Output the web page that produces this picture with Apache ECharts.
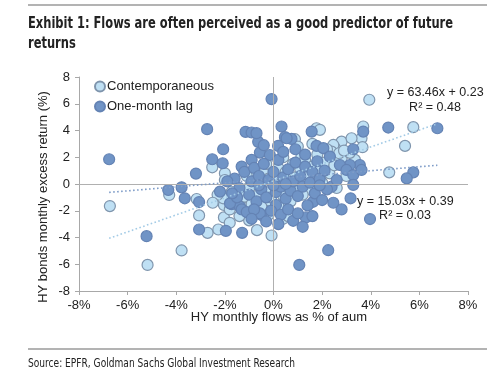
<!DOCTYPE html>
<html><head><meta charset="utf-8">
<script src="https://cdn.jsdelivr.net/npm/echarts@6/dist/echarts.min.js"></script>
<style>html,body{margin:0;padding:0;background:#fff}#c{width:500px;height:374px}</style>
</head><body><div id="c"></div>
<script>
// x: HY monthly flows (% of aum), y: HY bonds monthly excess return (%)
var contemporaneous = [
[-6.73,-1.65],[-5.18,-6.05],[-4.29,-0.82],[-3.78,-4.97],[-3.16,-1.12],[-3.06,-2.35],[-2.71,-3.65],[-2.27,-3.4],
[-2.04,-2.5],[-2.04,-1.57],[-2.52,1.25],[-2.07,-1.07],[-1.72,-0.58],[-1.1,-1.07],[-1.0,-2.72],[-0.68,-3.45],
[-0.08,-3.85],[0.4,-2.6],[-0.15,-1.25],[3.94,6.3],[5.75,4.25],[5.41,2.85],[4.76,0.87],[3.69,4.3],[3.62,3.42],
[1.77,4.17],[1.91,4.05],[2.8,3.17],[3.21,3.42],[2.53,2.68],[3.66,2.75],[2.8,1.92],[3.35,1.8],[0.88,3.35],
[2.46,2.92],[1.15,2.05],[-2.0,0.8],[-1.18,-0.95],[-0.97,-0.15],[-1.66,-1.45],[2.39,2.42],[3.14,2.33],
[-1.8,-1.9],[-1.6,-0.9],[-1.5,-1.5],[-1.3,-0.5],[-1.2,-1.8],[-1.0,-0.3],[-0.9,-1.5],[-0.8,0.5],[-0.7,-0.9],
[-0.6,0.1],[-0.5,-1.7],[-0.4,0.8],[-0.3,-0.6],[-0.2,0.4],[-0.1,-1.0],[0.0,0.6],[0.1,-0.3],[0.2,1.2],[0.3,0.0],
[0.4,-0.9],[0.5,0.9],[0.6,0.3],[0.7,-0.5],[0.8,1.5],[0.9,0.5],[1.0,-0.2],[1.1,1.1],[1.2,0.2],[1.3,1.8],
[1.4,0.7],[1.5,-0.4],[1.6,1.3],[1.7,0.4],[1.8,2.2],[1.9,1.0],[2.0,0.1],[2.1,1.6],[2.2,2.6],[2.3,0.8],
[2.5,1.4],[2.6,-0.3],[2.7,2.3],[-2.3,-0.8],[-2.5,-1.4],[-1.4,-2.4],[-0.6,-2.2],[0.2,-1.6],[0.7,-1.3],
[1.2,-0.8],[-1.1,0.6],[0.4,2.0],[1.0,2.8],[-0.3,1.5],[-2.0,0.3],[3.0,0.6],[2.9,2.5],[1.6,3.0],[0.6,-2.4],
[-0.2,-2.3],[-1.8,-2.9]
];
var oneMonthLag = [
[-6.76,1.85],[-5.22,-3.9],[-4.33,-0.45],[-3.78,-0.25],[-3.65,-1.07],[-3.06,-1.35],[-3.19,0.78],[-3.06,-3.4],
[-2.73,4.1],[-2.52,1.85],[-2.07,2.6],[-2.09,1.55],[-2.2,-0.57],[-1.96,-3.5],[-1.29,-3.65],[-1.72,-1.5],
[-1.38,-1.7],[-1.79,-1.45],[-1.31,-1.9],[-1.15,3.9],[-0.9,3.85],[-0.63,3.15],[-0.7,3.8],[-0.56,2.35],
[-0.15,2.17],[-0.9,1.8],[-1.31,1.3],[-0.08,6.35],[0.33,4.3],[1.57,3.92],[0.47,3.5],[0.74,3.37],[0.54,3.42],
[0.19,2.85],[1.77,2.85],[2.05,2.68],[3.28,2.6],[2.32,2.05],[3.55,1.42],[3.14,1.42],[2.73,1.42],[3.0,1.05],
[3.28,0.67],[3.62,1.05],[3.69,3.92],[4.72,4.22],[6.74,4.17],[5.75,0.87],[5.48,0.42],[3.17,-1.07],[3.97,-2.62],
[2.8,-1.9],[2.46,-1.4],[2.25,-4.95],[1.06,-6.05],[1.33,-2.5],[0.81,-2.75],[-0.49,-2.32],[0.1,-1.57],
[1.63,-1.33],[3.28,-0.07],[2.39,-0.2],[-0.56,-2.2],
[-1.6,0.4],[-1.4,-0.3],[-1.2,0.9],[-1.0,-0.8],[-0.9,0.2],[-0.8,1.2],[-0.7,-1.3],[-0.6,0.6],[-0.5,-0.4],
[-0.4,1.5],[-0.3,-1.0],[-0.2,0.3],[-0.1,-2.0],[0.0,0.9],[0.1,-0.6],[0.2,1.8],[0.3,-0.2],[0.4,0.5],[0.5,-1.1],
[0.6,1.1],[0.7,-0.5],[0.8,0.2],[0.9,1.6],[1.0,-0.9],[1.1,0.6],[1.2,-0.2],[1.3,1.3],[1.4,-1.6],[1.5,0.1],
[1.6,0.9],[1.7,-0.7],[1.8,1.7],[1.9,0.4],[2.0,-1.2],[2.1,1.0],[2.2,-0.4],[-1.5,-1.0],[-1.1,-2.1],[-0.8,-1.9],
[-0.3,-2.8],[0.3,-2.3],[0.6,-1.9],[1.0,-2.2],[1.6,-2.4],[0.4,2.4],[0.9,2.6],[1.3,2.2],[-0.4,2.9],[-1.9,0.2],
[-1.7,-0.7],[0.0,-0.1],[0.5,0.0],[-0.6,-0.1],[1.9,-0.1],[2.6,0.3],[1.2,-3.2],[0.2,-3.0],[-0.9,-2.6]
];
// regression fits as printed on the chart (x as fraction): slope, intercept
var fitContemp = [63.46, 0.23];
var fitLag = [15.03, 0.39];
var xRange = [-6.76, 6.74];
var xTicks = [-8,-6,-4,-2,0,2,4,6,8];
var yTicks = [-8,-6,-4,-2,0,2,4,6,8];
var titleLines = ['Exhibit 1: Flows are often perceived as a good predictor of future', 'returns'];
var sourceText = 'Source: EPFR, Goldman Sachs Global Investment Research';

function fitLine(f){ return xRange.map(function(x){ return [x, f[0]*x/100 + f[1]]; }); }

var narrow = "'Liberation Sans Narrow','DejaVu Sans Condensed',sans-serif";
var arial = "'Liberation Sans',Arial,sans-serif";
var mctx = document.createElement('canvas').getContext('2d');
function fitScale(text, font, target){ mctx.font = font; var w = mctx.measureText(text).width; return w > 0 ? target / w : 1; }
var titleFont = "bold 15px " + narrow;
var titleScale = fitScale(titleLines[0], titleFont, 425);
var srcFont = "13px " + narrow;
var srcScale = fitScale(sourceText, srcFont, 267);

var chart = echarts.init(document.getElementById('c'), null, {renderer:'canvas'});
chart.setOption({
  backgroundColor:'#fff',
  animation:false,
  grid:{left:79, right:32, top:77, bottom:83},
  legend:{
    orient:'vertical', left:89, top:75, itemWidth:10, itemHeight:10, itemGap:7,
    textStyle:{fontFamily:arial, fontSize:13, color:'#222', padding:[0,0,0,-3]},
    data:[{name:'Contemporaneous', icon:'circle'},{name:'One-month lag', icon:'circle'}]
  },
  xAxis:{
    type:'value', min:xTicks[0], max:xTicks[xTicks.length-1], interval:2,
    axisLine:{onZero:false, lineStyle:{color:'#a8a8a8', width:1}},
    axisTick:{show:true, length:4, lineStyle:{color:'#a8a8a8'}},
    splitLine:{show:false},
    axisLabel:{formatter:function(v){return v+'%';}, fontFamily:arial, fontSize:13, color:'#222', margin:8}
  },
  yAxis:{
    type:'value', min:yTicks[0], max:yTicks[yTicks.length-1], interval:2,
    axisLine:{show:true, onZero:false, lineStyle:{color:'#a8a8a8', width:1}},
    axisTick:{show:true, length:4, lineStyle:{color:'#a8a8a8'}},
    splitLine:{show:false},
    axisLabel:{fontFamily:arial, fontSize:13, color:'#222', margin:9}
  },
  series:[
    {type:'line', data:[], z:1, silent:true,
     markLine:{silent:true, symbol:'none', label:{show:false},
       lineStyle:{color:'#b0b0b0', width:1, type:'solid'},
       data:[{xAxis:0},{yAxis:0}]}},
    {name:'Contemporaneous', type:'scatter', data:contemporaneous, symbolSize:11, z:3,
     itemStyle:{color:'#bfe0f4', borderColor:'#7f95ad', borderWidth:1.2, opacity:1}},
    {name:'One-month lag', type:'scatter', data:oneMonthLag, symbolSize:11, z:4,
     itemStyle:{color:'#7094c6', borderColor:'#6483b4', borderWidth:1.2, opacity:1}},
    {type:'line', data:fitLine(fitContemp), symbol:'none', z:5, silent:true,
     lineStyle:{color:'#a3cbe6', width:1.6, type:[1.6,2.4]}},
    {type:'line', data:fitLine(fitLag), symbol:'none', z:5, silent:true,
     lineStyle:{color:'#7e9cc8', width:1.6, type:[1.6,2.4]}}
  ],
  graphic:[
    {type:'line', shape:{x1:28,y1:5,x2:487,y2:5}, style:{stroke:'#9a9a9a', lineWidth:1.5}},
    {type:'text', x:28, y:24, scaleX:titleScale, style:{text:titleLines[0], font:titleFont, fill:'#222', verticalAlign:'middle'}},
    {type:'text', x:28, y:44, scaleX:titleScale, style:{text:titleLines[1], font:titleFont, fill:'#222', verticalAlign:'middle'}},
    {type:'text', x:43, y:197, rotation:Math.PI/2, style:{text:'HY bonds monthly excess return (%)', font:"13px "+arial, fill:'#222', align:'center', verticalAlign:'middle'}},
    {type:'text', x:279, y:317, style:{text:'HY monthly flows as % of aum', font:"13px "+arial, fill:'#222', align:'center', verticalAlign:'middle'}},
    {type:'text', x:387, y:93, z:10, style:{text:'y = 63.46x + 0.23', font:"12.5px "+arial, fill:'#222', align:'left', verticalAlign:'middle'}},
    {type:'text', x:435, y:108, z:10, style:{text:'R² = 0.48', font:"12.5px "+arial, fill:'#222', align:'center', verticalAlign:'middle'}},
    {type:'text', x:357, y:202, z:10, style:{text:'y = 15.03x + 0.39', font:"12.5px "+arial, fill:'#222', align:'left', verticalAlign:'middle'}},
    {type:'text', x:405, y:216, z:10, style:{text:'R² = 0.03', font:"12.5px "+arial, fill:'#222', align:'center', verticalAlign:'middle'}},
    {type:'line', shape:{x1:28,y1:349,x2:487,y2:349}, style:{stroke:'#9a9a9a', lineWidth:1.5}},
    {type:'text', x:28, y:364, scaleX:srcScale, style:{text:sourceText, font:srcFont, fill:'#222', verticalAlign:'middle'}}
  ]
});
</script></body></html>
